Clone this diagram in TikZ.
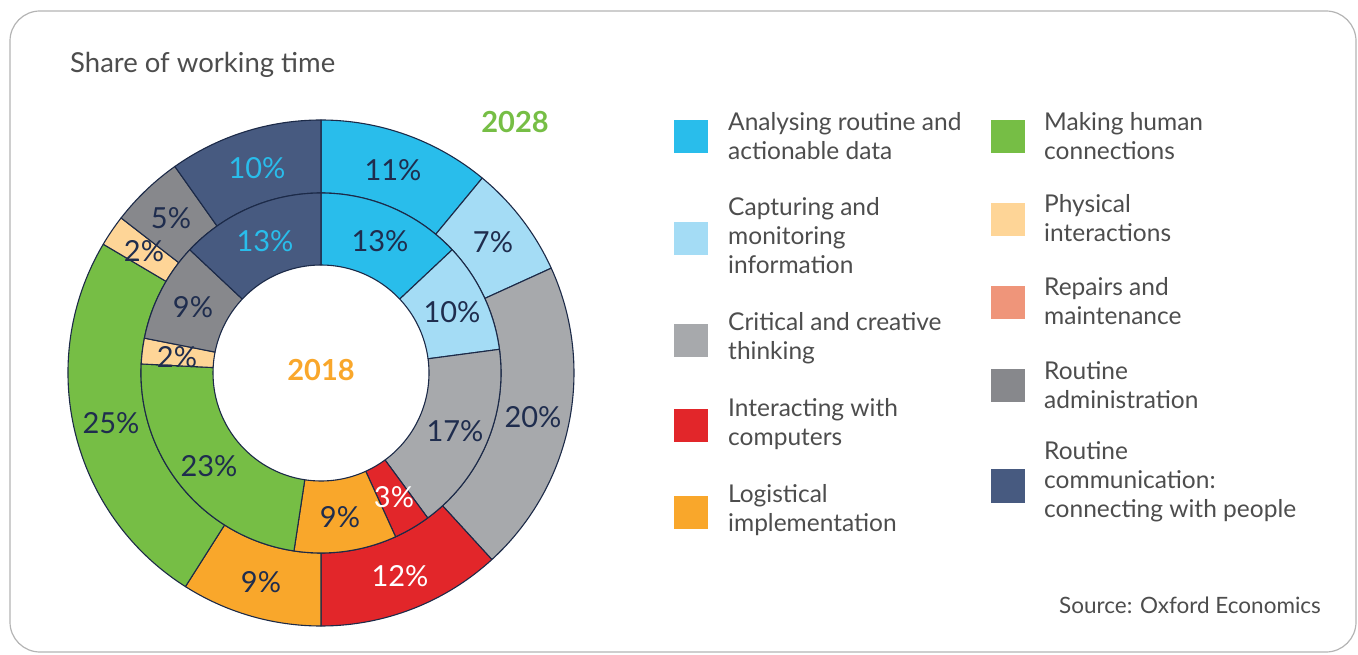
\documentclass[tikz,border=0pt]{standalone}
\usepackage{fontspec}
\setmainfont{Lato}
\definecolor{cAna}{HTML}{29BDEB}
\definecolor{cCap}{HTML}{A4DCF5}
\definecolor{cCri}{HTML}{A7A9AC}
\definecolor{cInt}{HTML}{E2262A}
\definecolor{cLog}{HTML}{F9A72B}
\definecolor{cMak}{HTML}{76BE45}
\definecolor{cPhy}{HTML}{FED597}
\definecolor{cRep}{HTML}{EF957A}
\definecolor{cAdm}{HTML}{87888C}
\definecolor{cCom}{HTML}{475A80}
\definecolor{cLine}{HTML}{1C2A48}
\definecolor{cLab}{HTML}{1F2D4E}
\definecolor{cTxt}{HTML}{4D4D4D}
\definecolor{cFrame}{HTML}{B4B4B4}
\newcommand{\dseg}[5]{%
  \filldraw[segstyle,fill=#5] (#3:#1) arc[start angle=#3,end angle=#4,radius=#1] -- (#4:#2) arc[start angle=#4,end angle=#3,radius=#2] -- cycle;}
\tikzset{
  segstyle/.style={draw=cLine,line width=1.1pt,line join=round},
  pct/.style={font=\fontsize{29}{32}\selectfont,text=cLab,inner sep=0pt},
  pctw/.style={pct,text=white},
  pctb/.style={pct,text=cAna},
  legsq/.style={minimum width=34pt,minimum height=33pt,inner sep=0pt},
  legtxt/.style={anchor=west,align=left,inner sep=0pt,text=cTxt,font=\fontsize{24.5}{29}\selectfont},
}
\begin{document}
\begin{tikzpicture}[x=1pt,y=1pt]
\useasboundingbox (0,0) rectangle (1358,654);
\draw[cFrame,line width=1.2pt,rounded corners=30pt] (10,2) rectangle (1356,643);
\node[anchor=base west,inner sep=0pt,text=cTxt,font=\fontsize{27.5}{30}\selectfont] (title) at (70,581) {Share of working time};
\begin{scope}[shift={(321,281)}]
% outer ring 2028
\dseg{180pt}{253pt}{90}{50.4}{cAna}
\dseg{180pt}{253pt}{50.4}{24.48}{cCap}
\dseg{180pt}{253pt}{24.48}{-47.52}{cCri}
\dseg{180pt}{253pt}{-47.52}{-90}{cInt}
\dseg{180pt}{253pt}{-90}{-122.4}{cLog}
\dseg{180pt}{253pt}{-122.4}{-210.6}{cMak}
\dseg{180pt}{253pt}{-210.6}{-217.8}{cPhy}
\dseg{180pt}{253pt}{-217.8}{-234.72}{cAdm}
\dseg{180pt}{253pt}{-234.72}{-270}{cCom}
% inner ring 2018
\dseg{108pt}{180pt}{90}{43.2}{cAna}
\dseg{108pt}{180pt}{43.2}{7.56}{cCap}
\dseg{108pt}{180pt}{7.56}{-53.64}{cCri}
\dseg{108pt}{180pt}{-53.64}{-65.52}{cInt}
\dseg{108pt}{180pt}{-65.52}{-98.64}{cLog}
\dseg{108pt}{180pt}{-98.64}{-182.88}{cMak}
\dseg{108pt}{180pt}{-182.88}{-191.16}{cPhy}
\dseg{108pt}{180pt}{-191.16}{-223.2}{cAdm}
\dseg{108pt}{180pt}{-223.2}{-270}{cCom}
\end{scope}
% outer labels
\node[pct] (o1) at (393,484) {11\%};
\node[pct] (o2) at (493,412) {7\%};
\node[pct] (o3) at (533,237) {20\%};
\node[pctw] (o4) at (400,78) {12\%};
\node[pct] (o5) at (261,72) {9\%};
\node[pct] (o6) at (111,231) {25\%};
\node[pct] (o7) at (144,403) {2\%};
\node[pct] (o8) at (171,436) {5\%};
\node[pctb] (o9) at (257,486) {10\%};
% inner labels
\node[pct] (i1) at (380,413) {13\%};
\node[pct] (i2) at (452,342) {10\%};
\node[pct] (i3) at (455,223) {17\%};
\node[pctw] (i4) at (394,157) {3\%};
\node[pct] (i5) at (340,137) {9\%};
\node[pct] (i6) at (209,188) {23\%};
\node[pct] (i7) at (177,297) {2\%};
\node[pct] (i8) at (193,347) {9\%};
\node[pctb] (i9) at (265,413) {13\%};
\node[inner sep=0pt,text=cLog,font=\bfseries\fontsize{29}{32}\selectfont] (y2018) at (321,284) {2018};
\node[inner sep=0pt,text=cMak,font=\bfseries\fontsize{29}{32}\selectfont] (y2028) at (515,532) {2028};
% legend left
\node[legsq,fill=cAna] (s1) at (691,517.5) {};
\node[legsq,fill=cCap] (s2) at (691,415) {};
\node[legsq,fill=cCri] (s3) at (691,313) {};
\node[legsq,fill=cInt] (s4) at (691,228) {};
\node[legsq,fill=cLog] (s5) at (691,142) {};
\node[legtxt] (t1) at (728,518) {Analysing routine and\\actionable data};
\node[legtxt] (t2) at (728,418) {Capturing and\\monitoring\\information};
\node[legtxt] (t3) at (728,316) {Critical and creative\\thinking};
\node[legtxt] (t4) at (728,230) {Interacting with\\computers};
\node[legtxt] (t5) at (728,144) {Logistical\\implementation};
% legend right
\node[legsq,fill=cMak] (s6) at (1008,517.5) {};
\node[legsq,fill=cPhy] (s7) at (1008,434) {};
\node[legsq,fill=cRep] (s8) at (1008,351) {};
\node[legsq,fill=cAdm] (s9) at (1008,268) {};
\node[legsq,fill=cCom] (s10) at (1008,168) {};
\node[legtxt] (t6) at (1044,518) {Making human\\connections};
\node[legtxt] (t7) at (1044,436) {Physical\\interactions};
\node[legtxt] (t8) at (1044,353) {Repairs and\\maintenance};
\node[legtxt] (t9) at (1044,269) {Routine\\administration};
\node[legtxt] (t10) at (1044,172) {Routine\\communication:\\connecting with people};
\node[anchor=base east,inner sep=0pt,text=cTxt,font=\fontsize{22.5}{26}\selectfont] (src) at (1321,41) {Source: Oxford Economics};
\end{tikzpicture}
\end{document}
